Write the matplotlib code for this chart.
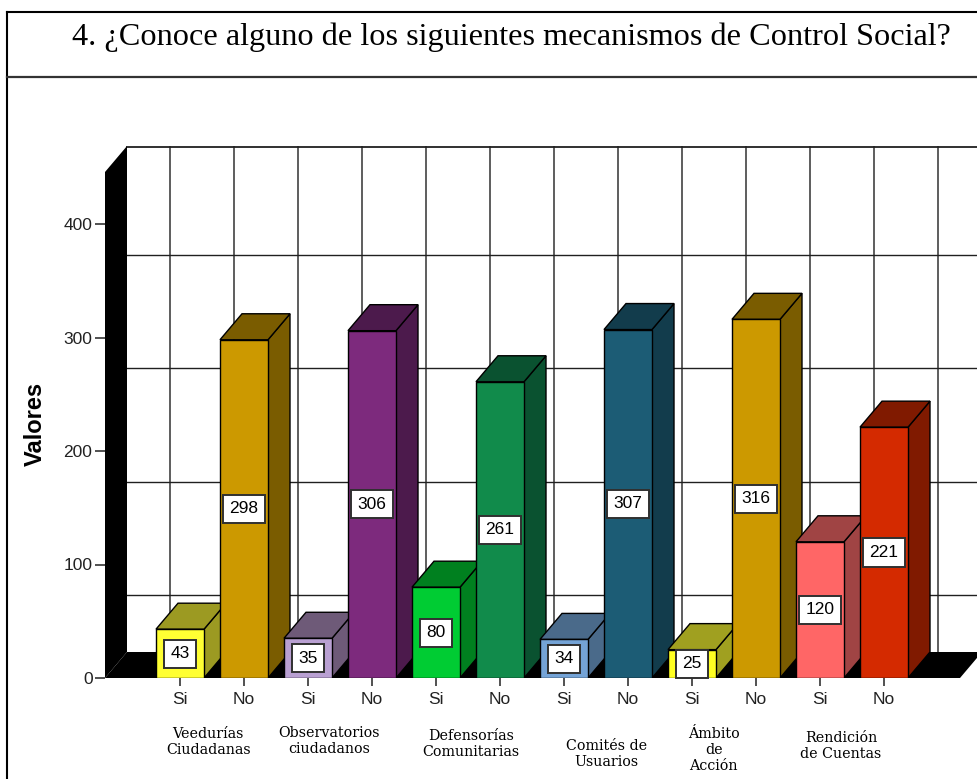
import numpy as np
import matplotlib
matplotlib.use('Agg')
import matplotlib.pyplot as plt
from matplotlib.patches import Polygon
from matplotlib.lines import Line2D

# data
answers = ['Si', 'No'] * 6
counts = [43, 298, 35, 306, 80, 261, 34, 307, 25, 316, 120, 221]
groups = ['Veedurías\nCiudadanas', 'Observatorios\nciudadanos', 'Defensorías\nComunitarias',
          'Comités de\nUsuarios', 'Ámbito\nde\nAcción', 'Rendición\nde Cuentas']
front_colors = ['#FFFF33', '#CC9900', '#B9A0D2', '#7D2A7D', '#00CC33', '#118B4B',
                '#74A3D6', '#1C5C75', '#FFFF22', '#CC9900', '#FF6666', '#D42A00']
shade_colors = ['#9C9A22', '#7A5C00', '#6E5A78', '#4C1A4C', '#00801F', '#0A5230',
                '#4A6A8A', '#123C4C', '#A0A020', '#7A5C00', '#A04444', '#801A00']
yticks = [0, 100, 200, 300, 400]

# layout (pixels of the 977x779 picture)
W, H = 977, 779
px_x = 64.0          # pixels per category
px_y = 1.135         # pixels per unit
ax_left, ax_right, ax_bottom, ax_top = 105, 977, 678, 146
first_center = 180
dx = 22 / px_x
dy = 26 / px_y
half = 24 / px_x
# group label position tweaks (x offset in categories, y centre in pixels)
grp_dx = [-0.06, -0.17, 0.05, 0.17, -0.16, -0.17]
grp_py = [742, 741, 744, 754, 750, 746]

fig = plt.figure(figsize=(W / 100, H / 100), dpi=100)
ax = fig.add_axes([ax_left / W, (H - ax_bottom) / H,
                   (ax_right - ax_left) / W, (ax_bottom - ax_top) / H])
x0 = (ax_left - first_center) / px_x
x1 = (ax_right - first_center) / px_x
ytop = (ax_bottom - ax_top) / px_y
ax.set_xlim(x0, x1)
ax.set_ylim(0, ytop)
for s in ax.spines.values():
    s.set_visible(False)

# back wall grid
for k in range(13):
    xx = k - 0.5 + dx
    ax.plot([xx, xx], [dy, ytop], color='#505050', lw=1.3, zorder=1, solid_capstyle='butt')
for v in [50, 150, 250, 350]:
    ax.plot([x0 + dx, x1], [v + dy, v + dy], color='#202020', lw=1.0, zorder=1)
ax.plot([x0 + dx, x1], [ytop - 0.5, ytop - 0.5], color='#202020', lw=1.3, zorder=1)

# floor and left wall
floor_right = (960 - first_center) / px_x
ax.add_patch(Polygon([(x0, 0), (floor_right, 0), (floor_right + dx, dy), (x0 + dx, dy)],
                     closed=True, fc='black', ec='none', zorder=2))
ax.add_patch(Polygon([(x0, 0), (x0 + dx, dy), (x0 + dx, ytop), (x0, ytop - dy)],
                     closed=True, fc='black', ec='none', zorder=2, clip_on=False))

# 3d bars
for i, v in enumerate(counts):
    z = 3 + i
    l, r = i - half, i + half
    side = [(r, 0), (r + dx, dy), (r + dx, v + dy), (r, v)]
    top = [(l, v), (r, v), (r + dx, v + dy), (l + dx, v + dy)]
    front = [(l, 0), (r, 0), (r, v), (l, v)]
    for pts, c in [(side, shade_colors[i]), (top, shade_colors[i]), (front, front_colors[i])]:
        ax.add_patch(Polygon(pts, closed=True, fc=c, ec='black', lw=1.0, zorder=z,
                             joinstyle='miter'))
    ax.text(i, v / 2, str(v), ha='center', va='center', fontsize=12.5,
            family='Liberation Sans', zorder=50,
            bbox=dict(boxstyle='square,pad=0.38', fc='white', ec='#303030', lw=1.4))

ax.set_yticks(yticks)
ax.set_yticklabels([str(t) for t in yticks])
ax.set_xticks(range(len(counts)))
ax.set_xticklabels(answers)
ax.tick_params(axis='y', direction='out', length=7, width=1.2, color='#333333', pad=2,
               labelsize=12.5)
ax.tick_params(axis='x', direction='out', length=6, width=1.2, color='#333333', pad=4,
               labelsize=12.5)
for lab in ax.get_xticklabels() + ax.get_yticklabels():
    lab.set_family('Liberation Sans')
    lab.set_color('#222222')

# group labels
for g, name in enumerate(groups):
    ax.text(2 * g + 0.5 + grp_dx[g], (ax_bottom - grp_py[g]) / (ax_bottom - ax_top), name,
            transform=ax.get_xaxis_transform(), ha='center', va='center',
            fontsize=10.3, family='DejaVu Serif', linespacing=1.15, clip_on=False)

fig.text(35 / W, 1 - 424 / H, 'Valores', rotation=90, ha='center', va='center',
         fontsize=17, fontweight='bold', family='Liberation Sans')

fig.text(511 / W, 1 - 37 / H, '4. ¿Conoce alguno de los siguientes mecanismos de Control Social?',
         ha='center', va='center', fontsize=23.2, family='Liberation Serif')

# frame
def fline(xa, ya, xb, yb, lw, c='black'):
    fig.add_artist(Line2D([xa / W, xb / W], [1 - ya / H, 1 - yb / H], lw=lw, color=c,
                          transform=fig.transFigure))

fline(7, 12, 977, 12, 1.5)
fline(7, 12, 7, 779, 1.5)
fline(7, 77, 977, 77, 1.6, '#333333')

fig.savefig('out.png', dpi=100)
